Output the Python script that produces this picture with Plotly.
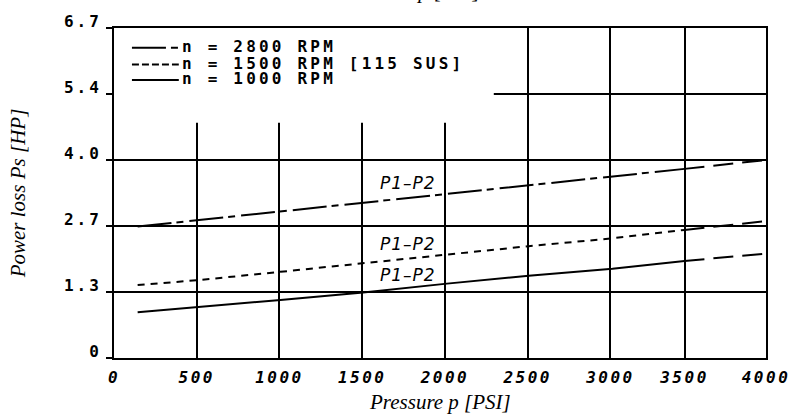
import plotly.graph_objects as go

# ---- data (pressure in PSI, power loss in HP) ----
pressure = [145, 514, 1021, 1529, 2043, 2544, 3058, 3500]
pressure_ext = [3500, 4000]

loss_2800 = [2.67, 2.80, 2.98, 3.15, 3.33, 3.51, 3.69, 3.84]
loss_2800_ext = [3.84, 4.02]
loss_1500 = [1.48, 1.58, 1.75, 1.93, 2.10, 2.27, 2.43, 2.60]
loss_1500_ext = [2.60, 2.78]
loss_1000 = [0.93, 1.03, 1.18, 1.33, 1.51, 1.67, 1.81, 1.97]
loss_1000_ext = [1.97, 2.12]

series_names = ["n = 2800 RPM", "n = 1500 RPM [115 SUS]", "n = 1000 RPM"]
curve_label = "P1\u2013P2"

x_tickvals = [0, 507.6, 1015.2, 1522.8, 2030.4, 2538, 3045.6, 3500, 4000]
x_ticktext = ["0", "500", "1000", "1500", "2000", "2500", "3000", "3500", "4000"]
y_tickvals = [0, 1.34, 2.68, 4.02, 5.36, 6.70]
y_ticktext = ["0", "1.3", "2.7", "4.0", "5.4", "6.7"]

x_title = "Pressure p [PSI]"
y_title = "Power loss Ps [HP]"

MONO = "DejaVu Sans Mono"
SERIF = "Liberation Serif"


def spaced(t, ls):
    return '<span style="letter-spacing:%spx">%s</span>' % (ls, t)


dash_main = ["34px,5px,7px,6px", "7px,6px", "solid"]
dash_ext = "20px,9px"

fig = go.Figure()
for vals, ext, d in [(loss_2800, loss_2800_ext, dash_main[0]),
                     (loss_1500, loss_1500_ext, dash_main[1]),
                     (loss_1000, loss_1000_ext, dash_main[2])]:
    fig.add_trace(go.Scatter(x=pressure, y=vals, mode="lines",
                             line=dict(color="black", width=2, dash=d),
                             showlegend=False, hoverinfo="skip"))
    fig.add_trace(go.Scatter(x=pressure_ext, y=ext, mode="lines",
                             line=dict(color="black", width=2, dash=dash_ext),
                             showlegend=False, hoverinfo="skip"))

# plot area in pixels: left 114, right 768, top 24, bottom 358
def px_x(p):
    return (p - 114) / 654.0


def px_y(p):
    return (358 - p) / 334.0


shapes = []
# white legend box hiding the grid behind it (data-referenced so it sits between grid and traces)
shapes.append(dict(type="rect", xref="x", yref="y",
                   x0=0, x1=2330, y0=4.774, y1=6.7,
                   fillcolor="white", line=dict(width=0), layer="between"))
# legend sample lines
rows_y = [44, 61, 76.7]
sample_dash = ["34px,5px,7px,6px", "7px,3px", "solid"]
for ry, d in zip(rows_y, sample_dash):
    shapes.append(dict(type="line", xref="paper", yref="paper",
                       x0=px_x(132), x1=px_x(179), y0=px_y(ry), y1=px_y(ry),
                       line=dict(color="black", width=2, dash=d), layer="above"))

annotations = []
text_rows = [42.5, 59.5, 75.5]
for ry, name in zip(text_rows, series_names):
    annotations.append(dict(xref="paper", yref="paper", x=px_x(180), y=px_y(ry),
                            xanchor="left", yanchor="middle", showarrow=False,
                            text=spaced(name, 3.2),
                            font=dict(family=MONO, size=16, color="black", weight="bold")))

# curve labels
for yv in [3.55, 2.31, 1.685]:
    annotations.append(dict(xref="x", yref="y", x=1804, y=yv, showarrow=False,
                            text=spaced(curve_label, 1),
                            font=dict(family="DejaVu Sans", size=17, color="black",
                                      style="italic")))

# axis titles
annotations.append(dict(xref="paper", yref="paper", x=0.5, y=px_y(403),
                        xanchor="center", yanchor="middle", showarrow=False,
                        text=x_title,
                        font=dict(family=SERIF, size=21, color="black", style="italic")))
annotations.append(dict(xref="paper", yref="paper", x=px_x(18), y=0.5,
                        xanchor="center", yanchor="middle", showarrow=False,
                        textangle=-90, text=y_title,
                        font=dict(family=SERIF, size=21, color="black", style="italic")))
# title cut off at the top edge
annotations.append(dict(xref="paper", yref="paper", x=px_x(411), y=px_y(1),
                        xanchor="center", yanchor="bottom", showarrow=False,
                        text=x_title,
                        font=dict(family=SERIF, size=21, color="black", style="italic")))

fig.update_layout(
    width=802, height=415,
    margin=dict(l=114, r=34, t=24, b=57, pad=0),
    paper_bgcolor="white", plot_bgcolor="white",
    shapes=shapes, annotations=annotations,
    showlegend=False,
)
fig.update_xaxes(range=[0, 4000], tickmode="array", tickvals=x_tickvals,
                 ticktext=[spaced(t, 2.5) for t in x_ticktext],
                 showgrid=True, gridcolor="black", gridwidth=2,
                 showline=True, linecolor="black", linewidth=2, mirror=True,
                 zeroline=False, ticks="", ticklabelstandoff=4,
                 tickfont=dict(family=MONO, size=16, color="black", style="italic",
                               weight="bold"))
fig.update_yaxes(range=[0, 6.7], tickmode="array", tickvals=y_tickvals,
                 ticktext=[spaced(t, 3) for t in y_ticktext],
                 showgrid=True, gridcolor="black", gridwidth=2,
                 showline=True, linecolor="black", linewidth=2, mirror=True,
                 zeroline=False, ticks="outside", ticklen=6, tickwidth=2,
                 tickcolor="black", ticklabelstandoff=1, ticklabelshift=-7,
                 tickfont=dict(family=MONO, size=16, color="black", weight="bold"))

fig.write_html("out.html")
